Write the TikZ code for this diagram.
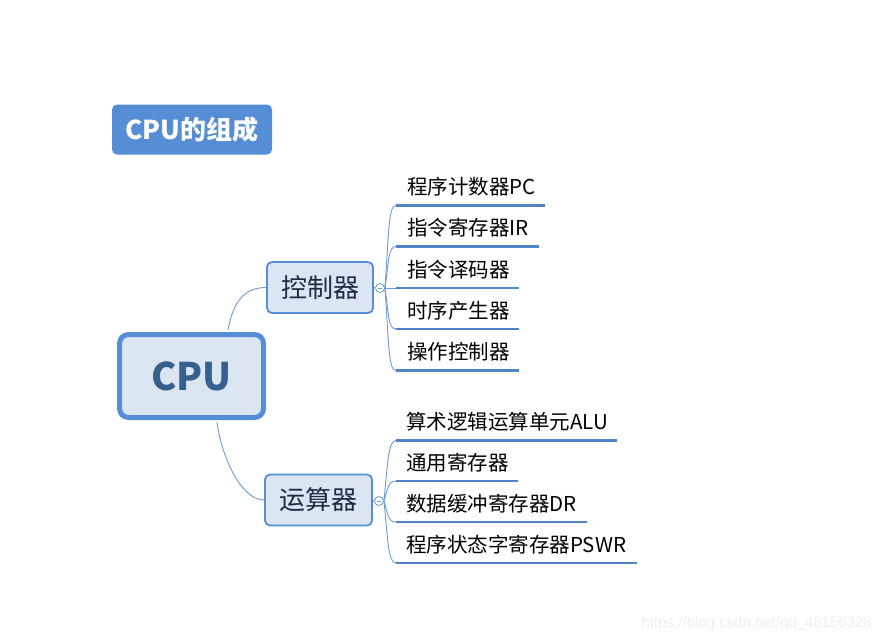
\documentclass[tikz,border=0pt]{standalone}
\usepackage{fontspec}
\setmainfont{Noto Sans CJK SC}
\newfontfamily\wmfont{Liberation Sans}
\usetikzlibrary{calc}
\definecolor{boxblue}{HTML}{558ED5}
\definecolor{boxfill}{HTML}{DCE6F2}
\definecolor{linkblue}{HTML}{6C9BD5}
\definecolor{ulblue}{HTML}{4F84C9}
\definecolor{cputext}{HTML}{35608F}
\definecolor{subtext}{HTML}{1F2B45}
\definecolor{wmgray}{HTML}{EEEEEE}
\begin{document}
\begin{tikzpicture}[x=1pt,y=-1pt,
  titlebox/.style={fill=boxblue, draw=none, rounded corners=5pt, minimum width=160pt, minimum height=50pt, inner sep=0pt, text=white, font=\fontsize{26}{26}\selectfont\bfseries},
  rootbox/.style={fill=boxfill, draw=boxblue, line width=5pt, rounded corners=9pt, minimum width=144pt, minimum height=83pt, inner sep=0pt, text=cputext, font=\fontsize{38}{38}\selectfont\bfseries},
  subbox/.style={fill=boxfill, draw=boxblue, line width=1.8pt, rounded corners=5pt, minimum height=51pt, inner sep=0pt, text=subtext, font=\fontsize{26}{26}\selectfont},
  hubdot/.style={circle, draw=linkblue, fill=white, line width=0.8pt, minimum size=9pt, inner sep=0pt},
  conn/.style={draw=linkblue, line width=0.9pt},
  uline/.style={draw=ulblue, line width=2.6pt},
  item/.style={anchor=base west, inner sep=0pt, text=black, font=\fontsize{20.5}{21}\selectfont}]
\useasboundingbox (0,0) rectangle (882,642);

% title
\node[titlebox] (title) at (192,129.5) {CPU的组成};

% root and sub nodes
\node[rootbox] (cpu) at (191.5,376) {CPU};
\node[subbox, minimum width=106pt] (ctrl) at (320,287.5) {控制器};
\node[subbox, minimum width=107pt] (alu) at (318.5,500) {运算器};

% collapse markers
\node[hubdot] (h1) at (380,288) {};
\node[hubdot] (h2) at (379,501) {};
\draw[linkblue, line width=0.8pt] ($(h1)+(-2.2,0)$) -- ($(h1)+(2.2,0)$);
\draw[linkblue, line width=0.8pt] ($(h2)+(-2.2,0)$) -- ($(h2)+(2.2,0)$);

% root connectors
\coordinate (cpuTop) at ($(cpu.north)+(36.5,-2)$);
\coordinate (cpuBot) at ($(cpu.south)+(25.5,2)$);
\draw[conn] (cpuTop) .. controls ($(cpuTop)+(5,-28)$) and ($(ctrl.west)+(-22,0)$) .. (ctrl.west);
\draw[conn] (cpuBot) .. controls ($(cpuBot)+(4,32)$) and ($(alu.west)+(-24,0)$) .. (alu.west);
\draw[conn] (ctrl.east) -- (h1.west);
\draw[conn] (alu.east) -- (h2.west);

% group 1 underline anchors
\coordinate (a1s) at (396,205.5); \coordinate (a1e) at (545,205.5);
\coordinate (a2s) at (396,246.5); \coordinate (a2e) at (539,246.5);
\coordinate (a3s) at (396,288);   \coordinate (a3e) at (519,288);
\coordinate (a4s) at (396,329);   \coordinate (a4e) at (519,329);
\coordinate (a5s) at (396,370.5); \coordinate (a5e) at (519,370.5);

% group 2 underline anchors
\coordinate (b1s) at (396,440.5); \coordinate (b1e) at (617,440.5);
\coordinate (b2s) at (396,481);   \coordinate (b2e) at (518,481);
\coordinate (b3s) at (396,522);   \coordinate (b3e) at (587,522);
\coordinate (b4s) at (396,563);   \coordinate (b4e) at (637,563);

% group 1 branches
\draw[conn] (h1.east) .. controls ($(h1.east)+(4,-52)$) and ($(a1s)+(-8,0)$) .. (a1s);
\draw[conn] (h1.east) .. controls ($(h1.east)+(4,-26)$) and ($(a2s)+(-8,0)$) .. (a2s);
\draw[conn] (h1.east) -- (a3s);
\draw[conn] (h1.east) .. controls ($(h1.east)+(4,26)$) and ($(a4s)+(-8,0)$) .. (a4s);
\draw[conn] (h1.east) .. controls ($(h1.east)+(4,52)$) and ($(a5s)+(-8,0)$) .. (a5s);

% group 2 branches
\draw[conn] (h2.east) .. controls ($(h2.east)+(4,-38)$) and ($(b1s)+(-8,0)$) .. (b1s);
\draw[conn] (h2.east) .. controls ($(h2.east)+(4,-12)$) and ($(b2s)+(-8,0)$) .. (b2s);
\draw[conn] (h2.east) .. controls ($(h2.east)+(4,13)$) and ($(b3s)+(-8,0)$) .. (b3s);
\draw[conn] (h2.east) .. controls ($(h2.east)+(4,38)$) and ($(b4s)+(-8,0)$) .. (b4s);

% underlines
\draw[uline] (a1s) -- (a1e);
\draw[uline] (a2s) -- (a2e);
\draw[uline] (a3s) -- (a3e);
\draw[uline] (a4s) -- (a4e);
\draw[uline] (a5s) -- (a5e);
\draw[uline] (b1s) -- (b1e);
\draw[uline] (b2s) -- (b2e);
\draw[uline] (b3s) -- (b3e);
\draw[uline] (b4s) -- (b4e);

% item texts
\node[item] (t1) at ($(a1s)+(11,-11)$) {程序计数器PC};
\node[item] (t2) at ($(a2s)+(11,-11)$) {指令寄存器IR};
\node[item] (t3) at ($(a3s)+(11,-11)$) {指令译码器};
\node[item] (t4) at ($(a4s)+(11,-11)$) {时序产生器};
\node[item] (t5) at ($(a5s)+(11,-11)$) {操作控制器};
\node[item] (s1) at ($(b1s)+(10,-11)$) {算术逻辑运算单元ALU};
\node[item] (s2) at ($(b2s)+(10,-11)$) {通用寄存器};
\node[item] (s3) at ($(b3s)+(10,-11)$) {数据缓冲寄存器DR};
\node[item] (s4) at ($(b4s)+(10,-11)$) {程序状态字寄存器PSWR};

% watermark
\node[anchor=east, inner sep=0pt, text=wmgray, font=\wmfont\fontsize{15}{15}\selectfont] (wm) at (872,624) {https://blog.csdn.net/qq\_46156328};
\end{tikzpicture}
\end{document}
